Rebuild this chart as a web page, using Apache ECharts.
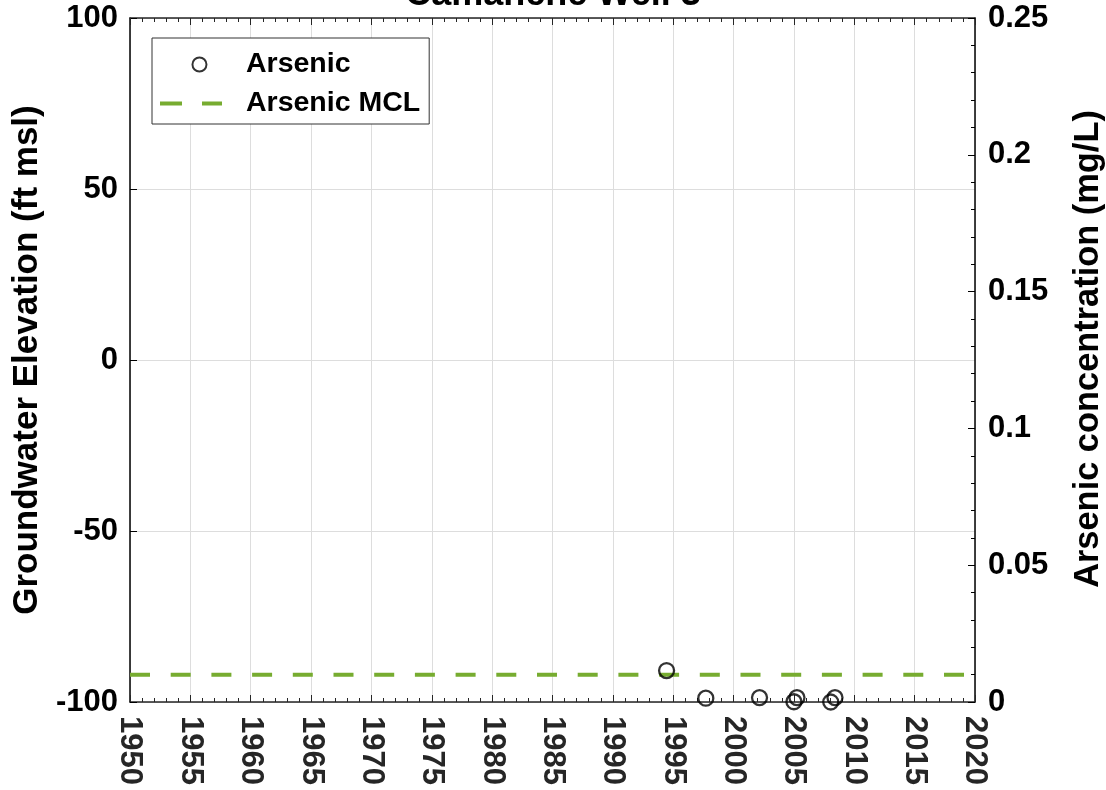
<!DOCTYPE html>
<html>
<head>
<meta charset="utf-8">
<script src="https://cdn.jsdelivr.net/npm/echarts@6/dist/echarts.min.js"></script>
<style>html,body{margin:0;padding:0;background:#fff;}#c{width:1106px;height:790px;}</style>
</head>
<body>
<div id="c"></div>
<script>
var titleText = 'Camanche Well 3';
var sampleYears = [1994.45, 1997.7, 2002.15, 2005.25, 2005.0, 2008.4, 2008.05];
var arsenicValues = [0.0115, 0.0014, 0.0016, 0.0016, 0.0001, 0.0016, 0.0];
var mclYears = [1950, 2020];
var mclValues = [0.010, 0.010];
var xRange = [1950, 2020];
var leftRange = [-100, 100];
var rightRange = [0, 0.25];

var FONT = '"Liberation Sans", Arial, Helvetica, sans-serif';
var chart = echarts.init(document.getElementById('c'));
var gridColor = '#dddddd';
var axisColor = '#262626';
var mclColor = '#77AC30';

var ringIcon = 'path://M0,0 L0.01,0 Z M62,16 L62.01,16 Z ' +
  'M31.5,8 A8.5,8.5 0 1,0 48.5,8 A8.5,8.5 0 1,0 31.5,8 Z M33.6,8 A6.4,6.4 0 1,1 46.4,8 A6.4,6.4 0 1,1 33.6,8 Z';
var dashIcon = 'path://M0,0 h22 v4 h-22 z M42,0 h20 v4 h-20 z';

chart.setOption({
  animation: false,
  backgroundColor: '#fff',
  title: {
    text: titleText, left: 'center', top: -28,
    textStyle: {fontFamily: FONT, fontSize: 36, fontWeight: 'bold', color: '#000', lineHeight: 36}
  },
  legend: {
    orient: 'vertical', left: 152, top: 38,
    padding: [12, 9, 6, 8],
    borderColor: '#333', borderWidth: 1, backgroundColor: '#fff',
    itemWidth: 62, itemHeight: 16, itemGap: 10,
    textStyle: {fontFamily: FONT, fontSize: 28.5, fontWeight: 'bold', color: '#000', padding: [0, 0, 0, 19], lineHeight: 28},
    data: [
      {name: 'Arsenic', icon: ringIcon, itemStyle: {color: '#000', borderWidth: 0}},
      {name: 'Arsenic MCL', icon: dashIcon, itemStyle: {color: mclColor, borderWidth: 0}}
    ]
  },
  grid: {left: 130, right: 131, top: 18, bottom: 88, containLabel: false, outerBoundsMode: 'none'},
  xAxis: [
    {
      type: 'value', min: xRange[0], max: xRange[1], interval: 5, position: 'bottom',
      axisLine: {show: true, onZero: false, lineStyle: {color: axisColor, width: 1.5}},
      axisTick: {show: true, inside: true, length: 7, lineStyle: {color: axisColor}},
      minorTick: {show: true, splitNumber: 5, length: 4, lineStyle: {color: axisColor}},
      splitLine: {show: true, lineStyle: {color: gridColor, width: 1}},
      axisLabel: {rotate: -90, margin: 14, fontFamily: FONT, fontSize: 31, fontWeight: 'bold', color: axisColor,
        formatter: function (v) { return String(v); }}
    },
    {
      type: 'value', min: xRange[0], max: xRange[1], interval: 5, position: 'top',
      axisLine: {show: true, onZero: false, lineStyle: {color: axisColor, width: 1.5}},
      axisTick: {show: true, inside: true, length: 7, lineStyle: {color: axisColor}},
      minorTick: {show: true, splitNumber: 5, length: 4, lineStyle: {color: axisColor}},
      splitLine: {show: false},
      axisLabel: {show: false}
    }
  ],
  yAxis: [
    {
      type: 'value', min: leftRange[0], max: leftRange[1], interval: 50, position: 'left',
      name: 'Groundwater Elevation (ft msl)', nameLocation: 'middle', nameGap: 84, nameRotate: 90,
      nameTextStyle: {fontFamily: FONT, fontSize: 35, fontWeight: 'bold', color: '#000'},
      axisLine: {show: true, onZero: false, lineStyle: {color: '#000', width: 1.5}},
      axisTick: {show: true, inside: true, length: 7, lineStyle: {color: '#000'}},
      splitLine: {show: true, lineStyle: {color: gridColor, width: 1}},
      axisLabel: {margin: 12, fontFamily: FONT, fontSize: 31, fontWeight: 'bold', color: '#000'}
    },
    {
      type: 'value', min: rightRange[0], max: rightRange[1], interval: 0.05, position: 'right',
      name: 'Arsenic concentration (mg/L)', nameLocation: 'middle', nameGap: 97, nameRotate: 90,
      nameTextStyle: {fontFamily: FONT, fontSize: 34.4, fontWeight: 'bold', color: '#000', padding: [0, 0, 0, 22]},
      axisLine: {show: true, onZero: false, lineStyle: {color: '#000', width: 1.5}},
      axisTick: {show: true, inside: true, length: 7, lineStyle: {color: '#000'}},
      minorTick: {show: true, splitNumber: 5, length: 4, lineStyle: {color: '#000'}},
      splitLine: {show: false},
      axisLabel: {margin: 13, fontFamily: FONT, fontSize: 31, fontWeight: 'bold', color: '#000',
        formatter: function (v) { return String(+v.toFixed(2)); }}
    }
  ],
  series: [
    {
      name: 'Arsenic', type: 'scatter', xAxisIndex: 0, yAxisIndex: 1, clip: false,
      symbol: 'circle', symbolSize: 15,
      itemStyle: {color: 'rgba(0,0,0,0)', borderColor: '#000', borderWidth: 2.3},
      data: sampleYears.map(function (x, i) { return [x, arsenicValues[i]]; }),
      z: 5
    },
    {
      name: 'Arsenic MCL', type: 'line', xAxisIndex: 0, yAxisIndex: 1,
      symbol: 'none', showSymbol: false,
      lineStyle: {color: mclColor, width: 4, type: [20, 20.7]},
      itemStyle: {color: mclColor},
      data: mclYears.map(function (x, i) { return [x, mclValues[i]]; }),
      z: 4
    }
  ]
});
</script>
</body>
</html>
